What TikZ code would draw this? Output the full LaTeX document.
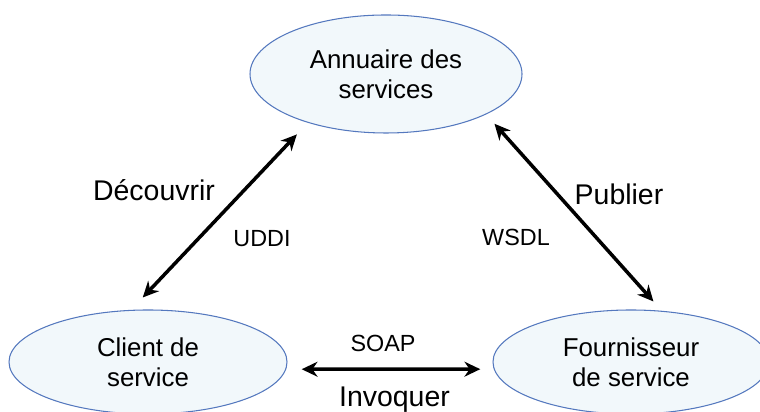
\documentclass[tikz,border=0pt]{standalone}
\usepackage{fontspec}
\setmainfont{Liberation Sans}
\usepackage{tikz}
\usetikzlibrary{shapes.geometric,arrows.meta}
\definecolor{ellfill}{RGB}{242,248,251}
\definecolor{elldraw}{RGB}{84,120,190}
\tikzstyle{role} = [ellipse, draw=elldraw, fill=ellfill, line width=0.6pt, align=center, inner sep=0pt, font=\fontsize{14.7}{17}\selectfont]
\tikzstyle{verb} = [anchor=base, font=\fontsize{16.2}{19}\selectfont]
\tikzstyle{proto} = [anchor=base, font=\fontsize{13.3}{16}\selectfont]
\tikzstyle{arrow} = [line width=2pt, {Stealth[length=9pt,width=8.5pt]}-{Stealth[length=9pt,width=8.5pt]}]

\begin{document}
\begin{tikzpicture}
\useasboundingbox (0,0) rectangle (15.2,8.24);
\node (annuaire) [role, minimum width=5.44cm, minimum height=2.36cm] at (7.72,6.76) {Annuaire des\\services};
\node (client) [role, minimum width=5.56cm, minimum height=2.08cm] at (2.96,1.0) {Client de\\service};
\node (fournisseur) [role, minimum width=5.52cm, minimum height=2.08cm] at (12.62,1.0) {Fournisseur\\de service};

\node (decouvrir) [verb] at (3.08,4.23) {Découvrir};
\node (uddi) [proto] at (5.24,3.31) {UDDI};
\node (publier) [verb] at (12.38,4.14) {Publier};
\node (wsdl) [proto] at (10.32,3.33) {WSDL};
\node (soap) [proto] at (7.66,1.21) {SOAP};
\node (invoquer) [verb] at (7.89,0.11) {Invoquer};

\draw [arrow, shorten <=0.34cm, shorten >=0.32cm] (client.108) -- (annuaire.212);
\draw [arrow, shorten <=0.25cm, shorten >=0.25cm] (annuaire.338) -- (fournisseur.59);
\draw [arrow, shorten <=0.31cm, shorten >=0.27cm] (client.357) -- (fournisseur.183);
\end{tikzpicture}
\end{document}
